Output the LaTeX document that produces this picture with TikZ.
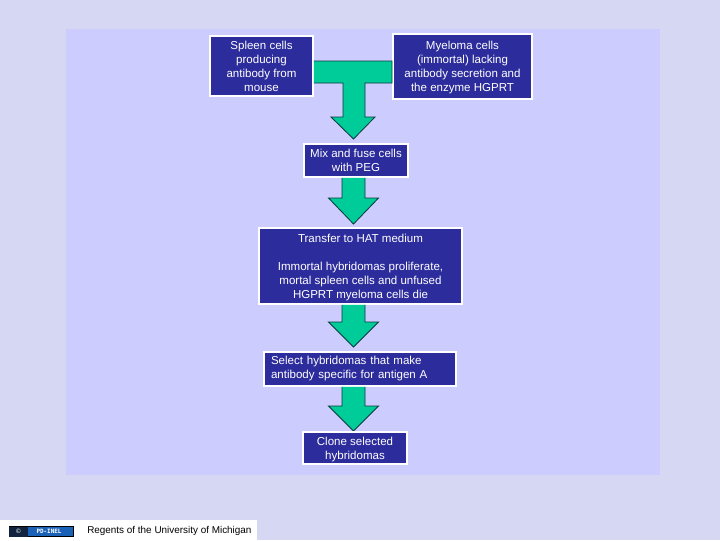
\documentclass[tikz,border=0pt]{standalone}
\usepackage{fontspec}
\setmainfont{Liberation Sans}
\setmonofont{DejaVu Sans Mono}
\usepackage{tikz}
\usetikzlibrary{shadows}

\definecolor{pagebg}{HTML}{D5D7F3}
\definecolor{panelbg}{HTML}{CCCCFF}
\definecolor{boxblue}{HTML}{2C2C9C}
\definecolor{arrowgreen}{HTML}{00CC99}
\definecolor{arrowline}{HTML}{0B3B3B}
\definecolor{badgeblue}{HTML}{1A62B8}
\definecolor{badgedark}{HTML}{12233F}

\tikzset{
    cellbox/.style={draw=white, line width=1.4pt, fill=boxblue, text=white, align=center,
        font=\fontsize{8.2}{9.95}\selectfont, inner sep=0pt, text depth=0pt,
        drop shadow={shadow xshift=0.8pt, shadow yshift=-0.8pt, opacity=0.3, fill=black}},
    blockarrow/.style={fill=arrowgreen, draw=arrowline, line width=0.6pt, line join=miter}
}

% stem from the box above down to the head, then the tip on the named coordinate
\newcommand{\downarrowfrom}[3]{
    \filldraw[blockarrow] ([xshift=-11.5*0.025cm]#1.south -| #2) -- ([xshift=-11.5*0.025cm]#2 |- 0,#3)
        -- ([xshift=-25*0.025cm]#2 |- 0,#3) -- (#2) -- ([xshift=25*0.025cm]#2 |- 0,#3)
        -- ([xshift=11.5*0.025cm]#2 |- 0,#3) -- ([xshift=11.5*0.025cm]#1.south -| #2);
}

\begin{document}
\begin{tikzpicture}[x=0.025cm, y=-0.025cm]
    \useasboundingbox (0,0) rectangle (720,540);
    %fondo
    \fill[pagebg] (0,0) rectangle (720,540);
    \fill[panelbg] (66,29) rectangle (660,475);
    %punte
    \coordinate (tiptransfer) at (353.5,224);
    \coordinate (tipselect) at (353.5,347);
    \coordinate (tipclone) at (353.5,431);
    %scatole
    \node[cellbox, minimum width=103*0.025cm, minimum height=60*0.025cm] (spleen) at (261.5,66) {Spleen cells\\producing\\antibody from\\mouse};
    \node[cellbox, minimum width=139*0.025cm, minimum height=65*0.025cm] (myeloma) at (462.5,66.5) {Myeloma cells\\(immortal) lacking\\antibody secretion and\\the enzyme HGPRT};
    %freccia a T
    \coordinate (tipmix) at (353.5,139);
    \coordinate (band) at (353.5,61);
    \filldraw[blockarrow] (spleen.east |- band) -- (myeloma.west |- band) -- (myeloma.west |- 0,83)
        -- (365,83) -- (365,117) -- (375,117) -- (tipmix) -- (331,117) -- (343,117) -- (343,83)
        -- (spleen.east |- 0,83);
    \node[cellbox, minimum width=104*0.025cm, minimum height=33*0.025cm] (mix) at (356,160.5) {Mix and fuse cells\\with PEG};
    \downarrowfrom{mix}{tiptransfer}{198}
    \node[cellbox, minimum width=203*0.025cm, minimum height=76*0.025cm] (transfer) at (360.5,266) {Transfer to HAT medium\\[9.95pt]Immortal hybridomas proliferate,\\mortal spleen cells and unfused\\HGPRT myeloma cells die};
    \downarrowfrom{transfer}{tipselect}{322}
    \node[cellbox, align=left, text depth=, text width=178*0.025cm, minimum width=192*0.025cm, minimum height=34*0.025cm] (select) at (360,369) {Select hybridomas that make\\antibody specific for antigen A};
    \downarrowfrom{select}{tipclone}{406}
    \node[cellbox, minimum width=104*0.025cm, minimum height=32*0.025cm] (clone) at (355,448) {Clone selected\\hybridomas};
    %crediti
    \node[fill=white, minimum width=257*0.025cm, minimum height=20*0.025cm, inner sep=0pt] (footer) at (128.5,530) {};
    \node[draw=black, line width=0.3pt, fill=badgeblue, minimum width=64*0.025cm, minimum height=10*0.025cm, inner sep=0pt] (badge) at (41,531.5) {};
    \node[fill=badgedark, minimum width=19*0.025cm, minimum height=10*0.025cm, inner sep=0pt, text=white, font=\fontsize{4.5}{5}\selectfont] (badgeicon) at (18.5,531.5) {©};
    \node[text=white, font=\ttfamily\bfseries\fontsize{4.2}{5}\selectfont, inner sep=0pt] (badgetext) at (49,531.5) {PD-INEL};
    \node[font=\fontsize{7.05}{8}\selectfont, inner sep=0pt, anchor=west] (credit) at (87,530.5) {Regents of the University of Michigan};
\end{tikzpicture}
\end{document}
